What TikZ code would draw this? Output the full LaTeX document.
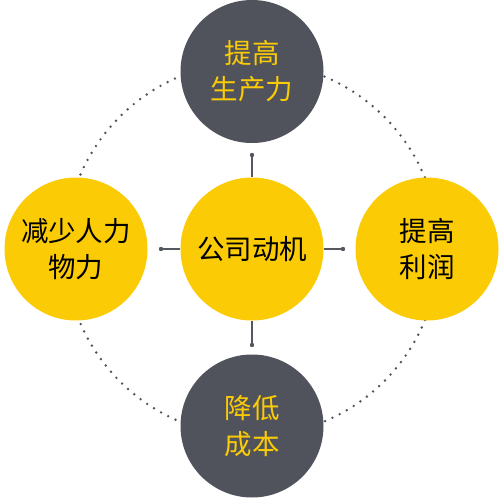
\documentclass[tikz,border=0pt]{standalone}
\usepackage{fontspec}
\setmainfont{Noto Sans CJK SC}
\definecolor{ylw}{HTML}{FBCB05}
\definecolor{dgray}{HTML}{50535C}
\definecolor{lgray}{HTML}{55585F}
\begin{document}
\begin{tikzpicture}[x=1pt,y=-1pt,
  circbase/.style={circle,minimum size=143pt,inner sep=0pt,align=center,
    font=\fontsize{27.5}{36}\selectfont},
  ycirc/.style={circbase,fill=ylw,text=black},
  gcirc/.style={circbase,fill=dgray,text=ylw},
  conn/.style={draw=lgray,line width=1.2pt},
  enddot/.style={fill=lgray},
  ring/.style={draw=dgray,line width=2.7pt,line cap=round,dash pattern=on 0pt off 8.1pt}]
\useasboundingbox (0,0) rectangle (499,498);
\coordinate (o) at (252,249);
\draw[ring] (o) circle (187);
\node[ycirc] (c) at (o) {公司动机};
\node[gcirc] (t) at (252,71.5) {提高\\生产力};
\node[gcirc] (b) at (252,426) {降低\\成本};
\node[ycirc] (l) at (76,249) {减少人力\\物力};
\node[ycirc] (r) at (427,249) {提高\\利润};
\coordinate (dt) at (252,155);
\coordinate (db) at (252,345);
\coordinate (dl) at (161,249);
\coordinate (dr) at (343,249);
\draw[conn] (c.north) -- (dt);
\draw[conn] (c.south) -- (db);
\draw[conn] (c.west) -- (dl);
\draw[conn] (c.east) -- (dr);
\foreach \d in {dt,db,dl,dr} \fill[enddot] (\d) circle (2.2);
\end{tikzpicture}
\end{document}
